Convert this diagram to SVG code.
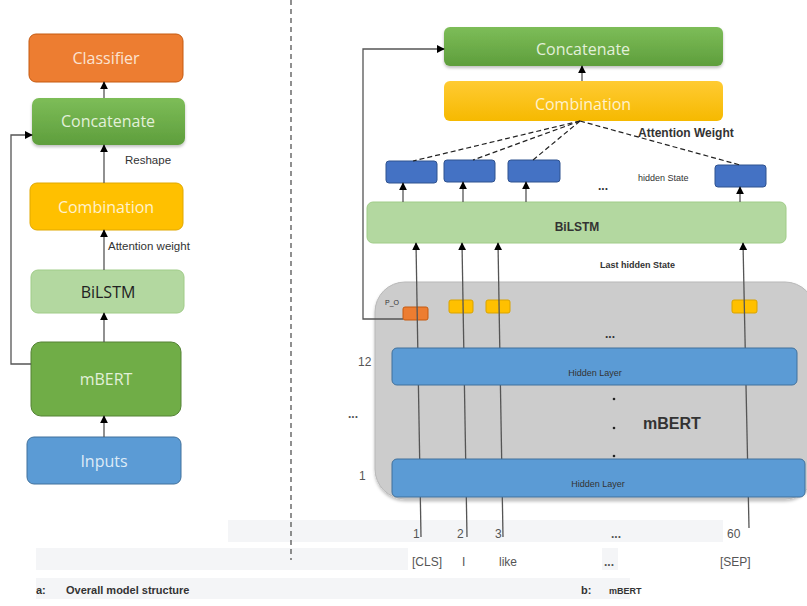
<svg xmlns="http://www.w3.org/2000/svg" width="807" height="606" viewBox="0 0 807 606">
  <style>
    .lbl { font-family: 'Open Sans', 'Liberation Sans', sans-serif; font-size: 16px; text-anchor: middle; }
    .small { font-family: 'Liberation Sans', Arial, sans-serif; fill: #333; }
    .narrow { font-family: 'Liberation Sans Narrow', 'Liberation Sans', sans-serif; font-size: 12px; fill: #555; }
    .conn { fill: none; stroke: #555; stroke-width: 1.3; }
    .dash { fill: none; stroke: #222; stroke-width: 1.2; stroke-dasharray: 5 3; }
    .hs { fill: #4472c4; stroke: #2f528f; stroke-width: 1; }
    .tok { fill: #ffc000; stroke: #d9a300; stroke-width: 1; }
    .hl { fill: #5b9bd5; stroke: #41719c; stroke-width: 1; }
    .band { fill: #f4f5f7; }
  </style>
  <defs>
    <marker id="arr" viewBox="0 0 10 10" refX="9" refY="5" markerWidth="8" markerHeight="8" markerUnits="userSpaceOnUse" orient="auto">
      <path d="M0,0 L10,5 L0,10 z" fill="#000"/>
    </marker>
    <linearGradient id="gGreen" x1="0" y1="0" x2="0" y2="1">
      <stop offset="0" stop-color="#7dbd58"/>
      <stop offset="1" stop-color="#5e9e3c"/>
    </linearGradient>
    <linearGradient id="gYellow" x1="0" y1="0" x2="0" y2="1">
      <stop offset="0" stop-color="#ffcb33"/>
      <stop offset="1" stop-color="#f6b900"/>
    </linearGradient>
    <filter id="shadow" x="-10%" y="-20%" width="120%" height="150%">
      <feDropShadow dx="0" dy="2" stdDeviation="1.5" flood-color="#000" flood-opacity="0.25"/>
    </filter>
  </defs>

  <!-- faint row bands behind the token rows and captions -->
  <rect class="band" x="228" y="520" width="495" height="22"/>
  <rect class="band" x="36" y="548" width="372" height="22"/>
  <rect class="band" x="602" y="548" width="16" height="22"/>
  <rect class="band" x="36" y="578" width="594" height="21"/>

  <!-- divider between the two panels -->
  <line x1="291" y1="0" x2="291" y2="560" stroke="#555" stroke-width="1.3" stroke-dasharray="5 4"/>

  <!-- ===== panel a ===== -->
  <g id="a-classifier">
    <rect x="29" y="34" width="154" height="48" rx="7" fill="#ed7d31" stroke="#c55a11" stroke-width="1"/>
    <text class="lbl" x="106" y="64" fill="#fbe3d2">Classifier</text>
  </g>
  <g id="a-concatenate">
    <rect x="32" y="98" width="153" height="47" rx="7" fill="url(#gGreen)" filter="url(#shadow)"/>
    <text class="lbl" x="108" y="127" fill="#e2f0d9">Concatenate</text>
  </g>
  <g id="a-combination">
    <rect x="30" y="183" width="153" height="47" rx="7" fill="#ffc000" stroke="#e0a800" stroke-width="1"/>
    <text class="lbl" x="106" y="213" fill="#fff2cc">Combination</text>
  </g>
  <g id="a-bilstm">
    <rect x="31" y="270" width="153" height="43" rx="7" fill="#b3d8a0" stroke="#a0cc88" stroke-width="1"/>
    <text class="lbl" x="108" y="298" fill="#222">BiLSTM</text>
  </g>
  <g id="a-mbert">
    <rect x="31" y="342" width="150" height="74" rx="10" fill="#70ad47" stroke="#548235" stroke-width="1"/>
    <text class="lbl" x="106" y="385" fill="#e2f0d9">mBERT</text>
  </g>
  <g id="a-inputs">
    <rect x="27" y="437" width="154" height="47" rx="7" fill="#5b9bd5" stroke="#41719c" stroke-width="1"/>
    <text class="lbl" x="104" y="467" fill="#deebf7">Inputs</text>
  </g>
  <text class="small" x="125" y="164" font-size="11.5">Reshape</text>
  <text class="small" x="108" y="250" font-size="11.5">Attention weight</text>

  <g id="a-connectors">
    <line class="conn" x1="104" y1="98" x2="104" y2="82" marker-end="url(#arr)"/>
    <line class="conn" x1="104" y1="183" x2="104" y2="145" marker-end="url(#arr)"/>
    <line class="conn" x1="104" y1="270" x2="104" y2="230" marker-end="url(#arr)"/>
    <line class="conn" x1="104" y1="342" x2="104" y2="313" marker-end="url(#arr)"/>
    <line class="conn" x1="104" y1="437" x2="104" y2="416" marker-end="url(#arr)"/>
    <polyline class="conn" points="31,364 11,364 11,135 32,135" marker-end="url(#arr)"/>
  </g>

  <!-- ===== panel b ===== -->
  <g id="b-concatenate">
    <rect x="444" y="27" width="279" height="39" rx="6" fill="url(#gGreen)" filter="url(#shadow)"/>
    <text class="lbl" x="583" y="55" fill="#e2f0d9">Concatenate</text>
  </g>
  <g id="b-combination">
    <rect x="444" y="81" width="279" height="40" rx="6" fill="url(#gYellow)"/>
    <text class="lbl" x="583" y="110" fill="#fff2cc">Combination</text>
  </g>
  <text class="small" x="638" y="137" font-size="12" font-weight="bold">Attention Weight</text>

  <g id="b-hidden-states">
    <rect class="hs" x="386" y="161" width="51" height="22" rx="3"/>
    <rect class="hs" x="444" y="160" width="51" height="22" rx="3"/>
    <rect class="hs" x="508" y="160" width="52" height="22" rx="3"/>
    <rect class="hs" x="715" y="165" width="51" height="22" rx="3"/>
  </g>
  <text class="small" x="598" y="190" font-size="12" font-weight="bold">...</text>
  <text class="small" x="638" y="181" font-size="9">hidden State</text>

  <g id="b-bilstm">
    <rect x="367" y="202" width="419" height="41" rx="6" fill="#b3d8a0" stroke="#a0cc88" stroke-width="1"/>
    <text class="small" x="577" y="231" font-size="12" font-weight="bold" text-anchor="middle">BiLSTM</text>
  </g>
  <text class="small" x="600" y="268" font-size="9" font-weight="bold">Last hidden State</text>

  <g id="b-mbert">
    <rect x="375" y="282" width="440" height="217" rx="30" fill="#cccccc" stroke="#b8b8b8" stroke-width="1" filter="url(#shadow)"/>
    <text class="small" x="385" y="305" font-size="7" fill="#666">P_O</text>
    <rect x="403" y="307" width="25" height="13" rx="2" fill="#ed7d31" stroke="#c55a11" stroke-width="1"/>
    <rect class="tok" x="449" y="300" width="24" height="13" rx="2"/>
    <rect class="tok" x="486" y="300" width="24" height="13" rx="2"/>
    <rect class="tok" x="732" y="300" width="25" height="13" rx="2"/>
    <text class="small" x="610" y="338" font-size="12" font-weight="bold" text-anchor="middle">...</text>
    <circle cx="614" cy="399" r="1.3" fill="#222"/>
    <circle cx="614" cy="428" r="1.3" fill="#222"/>
    <circle cx="614" cy="456" r="1.3" fill="#222"/>
    <text class="small" x="643" y="429" font-size="16" font-weight="bold" fill="#111">mBERT</text>
  </g>

  <g id="b-connectors">
    <line class="dash" x1="580" y1="121" x2="413" y2="161"/>
    <line class="dash" x1="580" y1="121" x2="473" y2="160"/>
    <line class="dash" x1="580" y1="121" x2="533" y2="160"/>
    <line class="dash" x1="580" y1="121" x2="740" y2="165"/>
    <line class="conn" x1="582" y1="81" x2="582" y2="66" marker-end="url(#arr)"/>
    <line class="conn" x1="403" y1="202" x2="403" y2="183" marker-end="url(#arr)"/>
    <line class="conn" x1="463" y1="202" x2="463" y2="182" marker-end="url(#arr)"/>
    <line class="conn" x1="526" y1="202" x2="526" y2="182" marker-end="url(#arr)"/>
    <line class="conn" x1="740" y1="202" x2="740" y2="187" marker-end="url(#arr)"/>
    <line class="conn" x1="421" y1="537" x2="416" y2="243" marker-end="url(#arr)"/>
    <line class="conn" x1="467" y1="537" x2="462" y2="243" marker-end="url(#arr)"/>
    <line class="conn" x1="503" y1="537" x2="498" y2="243" marker-end="url(#arr)"/>
    <line class="conn" x1="749" y1="528" x2="743" y2="243" marker-end="url(#arr)"/>
    <polyline class="conn" points="403,319 363,319 363,49 444,49" marker-end="url(#arr)"/>
  </g>

  <g id="b-layer-12">
    <rect class="hl" x="392" y="348" width="405" height="37" rx="5"/>
    <text class="small" x="595" y="376" font-size="9" fill="#e8f1fa" text-anchor="middle">Hidden Layer</text>
  </g>
  <g id="b-layer-1">
    <rect class="hl" x="392" y="459" width="413" height="38" rx="5"/>
    <text class="small" x="598" y="487" font-size="9" fill="#e8f1fa" text-anchor="middle">Hidden Layer</text>
  </g>

  <!-- layer indices -->
  <text class="narrow" x="358" y="366">12</text>
  <text class="narrow" x="348" y="418" font-weight="bold">...</text>
  <text class="narrow" x="359" y="480">1</text>

  <!-- token positions and tokens -->
  <text class="narrow" x="413" y="538">1</text>
  <text class="narrow" x="457" y="538">2</text>
  <text class="narrow" x="495" y="538">3</text>
  <text class="narrow" x="611" y="538" font-weight="bold">...</text>
  <text class="narrow" x="727" y="538">60</text>
  <text class="narrow" x="412" y="566">[CLS]</text>
  <text class="narrow" x="462" y="566">I</text>
  <text class="narrow" x="499" y="566">like</text>
  <text class="narrow" x="604" y="566" font-weight="bold">...</text>
  <text class="narrow" x="720" y="566">[SEP]</text>

  <!-- captions -->
  <text class="small" x="36" y="594" font-size="11" font-weight="bold">a:</text>
  <text class="small" x="66" y="594" font-size="11" font-weight="bold">Overall model structure</text>
  <text class="small" x="581" y="594" font-size="11" font-weight="bold">b:</text>
  <text class="small" x="609" y="594" font-size="9" font-weight="bold">mBERT</text>
</svg>
